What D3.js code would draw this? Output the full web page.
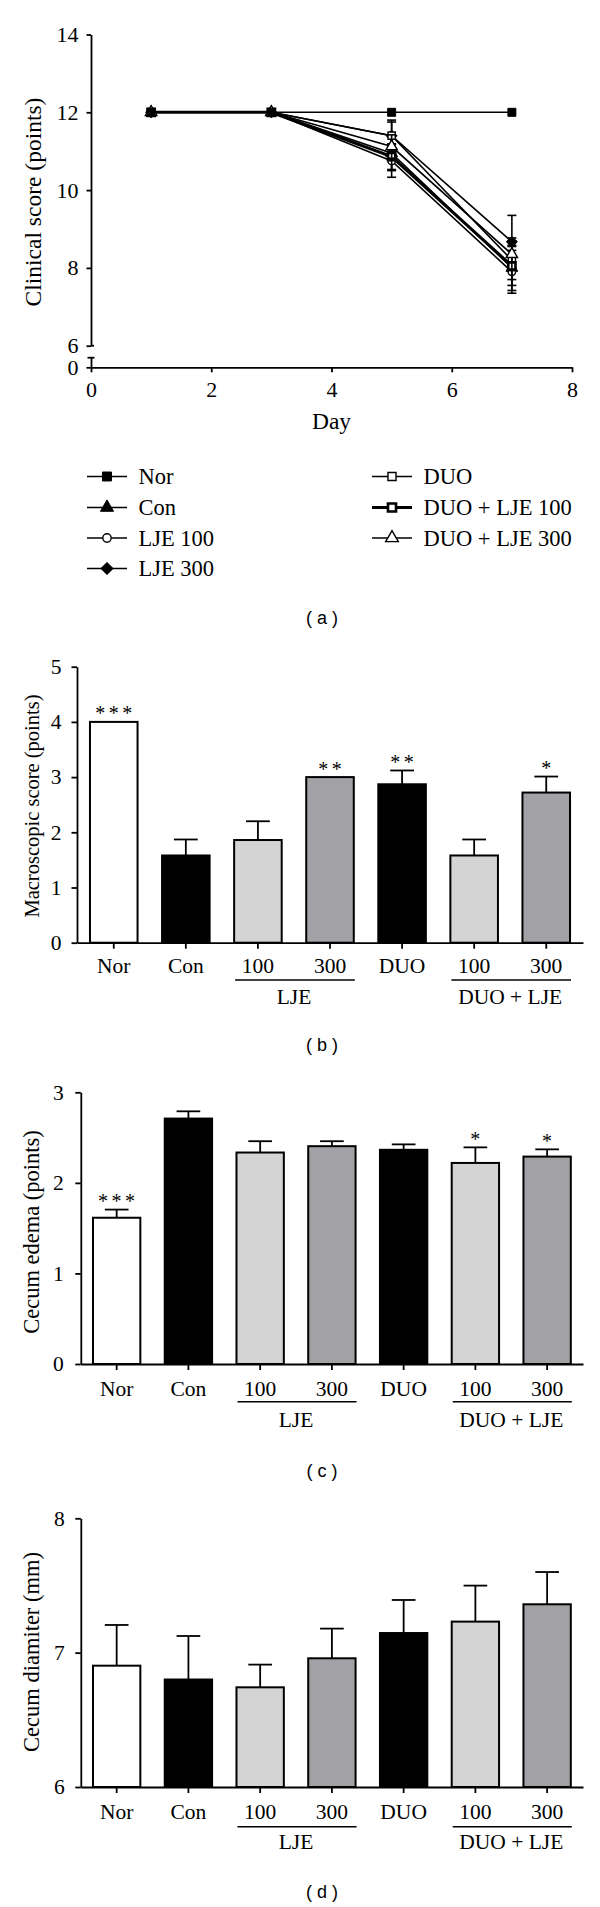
<!DOCTYPE html>
<html><head><meta charset="utf-8">
<script src="https://cdn.jsdelivr.net/npm/d3@7"></script>
<style>body{margin:0;background:#fff}svg{display:block}</style>
</head><body>
<svg id="chart" width="600" height="1907"></svg>
<script>
// ---------- DATA ----------
// (a) clinical score
const days = [1, 3, 5, 7];
const dayTicks = [0, 2, 4, 6, 8];
const scoreTicks = [6, 8, 10, 12, 14];
const seriesNames = ["Nor", "Con", "LJE 100", "LJE 300", "DUO", "DUO + LJE 100", "DUO + LJE 300"];
const scoreNor      = [12, 12, 12, 12];
const scoreCon      = [12, 12, 10.95, 8.0];
const scoreLJE100   = [12, 12, 10.75, 7.9];
const scoreLJE300   = [12, 12, 11.4, 8.67];
const scoreDUO      = [12, 12, 11.4, 8.2];
const scoreDUO100   = [12, 12, 10.86, 8.05];
const scoreDUO300   = [12, 12, 11.12, 8.35];
const errNor    = [0, 0, 0, 0];
const errCon    = [0, 0, 0.45, 0.58];
const errLJE100 = [0, 0, 0.42, 0.55];
const errLJE300 = [0, 0, 0.4, 0.68];
const errDUO    = [0, 0, 0.35, 0.5];
const errDUO100 = [0, 0, 0.33, 0.5];
const errDUO300 = [0, 0, 0.3, 0.42];

// bar panels
const barKeys   = ["Nor", "Con", "LJE100", "LJE300", "DUO", "DUOLJE100", "DUOLJE300"];
const barLabels = ["Nor", "Con", "100", "300", "DUO", "100", "300"];
const groupLabels = ["LJE", "DUO + LJE"];
// (b) macroscopic score
const macroTicks = [0, 1, 2, 3, 4, 5];
const macroMean  = [4.0, 1.58, 1.86, 3.0, 2.87, 1.58, 2.72];
const macroErr   = [0, 0.29, 0.34, 0, 0.25, 0.29, 0.29];
const macroStars = ["***", "", "", "**", "**", "", "*"];
// (c) cecum edema
const edemaTicks = [0, 1, 2, 3];
const edemaMean  = [1.615, 2.71, 2.335, 2.405, 2.365, 2.22, 2.29];
const edemaErr   = [0.09, 0.08, 0.125, 0.055, 0.06, 0.172, 0.08];
const edemaStars = ["***", "", "", "", "", "*", "*"];
// (d) cecum diameter
const diamTicks = [6, 7, 8];
const diamMean  = [6.903, 6.80, 6.742, 6.958, 7.146, 7.231, 7.36];
const diamErr   = [0.303, 0.324, 0.169, 0.221, 0.246, 0.268, 0.24];
const diamStars = ["", "", "", "", "", "", ""];

// ---------- DRAW ----------
const svg = d3.select("#chart");
const SERIF = "'Liberation Serif','Times New Roman',serif";
const SANS = "'Liberation Sans',Arial,sans-serif";
const barFills = ["#ffffff", "#000000", "#d4d4d4", "#a2a2a6", "#000000", "#d4d4d4", "#a2a2a6"];

function styleAxis(g, fs) {
  g.selectAll("path.domain").attr("stroke", "#000").attr("stroke-width", 1.8);
  g.selectAll(".tick line").attr("stroke", "#000").attr("stroke-width", 1.8);
  g.selectAll(".tick text").attr("font-family", SERIF).attr("font-size", fs).attr("fill", "#000");
}

// ===== Panel (a) =====
(function () {
  const AX = 91;
  const x = d3.scaleLinear().domain([0, 8]).range([AX, 572]);
  const y = d3.scaleLinear().domain([6, 14]).range([345.7, 34.5]);
  const yLow = d3.scaleLinear().domain([0, 0.25]).range([367.3, 357.7]);
  const g = svg.append("g");

  const gy = g.append("g").attr("transform", `translate(${AX},0)`)
    .call(d3.axisLeft(y).tickValues(scoreTicks).tickSize(4.5).tickSizeOuter(0).tickPadding(8));
  styleAxis(gy, 22);
  g.append("line").attr("x1", AX).attr("x2", AX + 3).attr("y1", y(6)).attr("y2", y(6))
    .attr("stroke", "#000").attr("stroke-width", 1.8);
  const gy0 = g.append("g").attr("transform", `translate(${AX},0)`)
    .call(d3.axisLeft(yLow).tickValues([0]).tickFormat(d3.format("d")).tickSize(4.5).tickSizeOuter(0).tickPadding(8));
  styleAxis(gy0, 22);
  g.append("line").attr("x1", AX - 3.5).attr("x2", AX + 3.5).attr("y1", yLow(0.25)).attr("y2", yLow(0.25))
    .attr("stroke", "#000").attr("stroke-width", 1.8);

  const gx = g.append("g").attr("transform", "translate(0,367.3)")
    .call(d3.axisBottom(x).tickValues(dayTicks).tickSize(5).tickSizeOuter(0).tickPadding(9));
  styleAxis(gx, 22);

  g.append("text").attr("x", x(4)).attr("y", 429).attr("text-anchor", "middle")
    .attr("font-family", SERIF).attr("font-size", 23.5).text("Day");
  g.append("text").attr("transform", "translate(40.5,202) rotate(-90)").attr("text-anchor", "middle")
    .attr("font-family", SERIF).attr("font-size", 23.5).text("Clinical score (points)");

  const values = [scoreNor, scoreCon, scoreLJE100, scoreLJE300, scoreDUO, scoreDUO100, scoreDUO300];
  const errs = [errNor, errCon, errLJE100, errLJE300, errDUO, errDUO100, errDUO300];
  const markers = [
    {type: d3.symbolSquare, size: 64, fill: "#000", sw: 1, rot: 0},
    {type: d3.symbolTriangle, size: 60, fill: "#000", sw: 1, rot: 0},
    {type: d3.symbolCircle, size: 44, fill: "#fff", sw: 1.4, rot: 0},
    {type: d3.symbolSquare, size: 56, fill: "#000", sw: 1, rot: 45},
    {type: d3.symbolSquare, size: 52, fill: "#fff", sw: 1.4, rot: 0},
    {type: d3.symbolSquare, size: 52, fill: "#fff", sw: 2.6, rot: 0},
    {type: d3.symbolTriangle, size: 56, fill: "#fff", sw: 1.4, rot: 0}
  ];
  const lineW = [1.6, 1.6, 1.6, 1.6, 1.6, 3, 1.6];
  const line = d3.line().x((d, i) => x(days[i])).y(d => y(d));
  const order = [1, 2, 3, 4, 5, 6, 0];
  order.forEach(s => {
    const sg = g.append("g");
    values[s].forEach((v, i) => {
      const e = errs[s][i];
      if (e <= 0) return;
      const cx = x(days[i]);
      sg.append("line").attr("x1", cx).attr("x2", cx).attr("y1", y(v - e)).attr("y2", y(v + e))
        .attr("stroke", "#000").attr("stroke-width", 1.6);
      [v - e, v + e].forEach(t => sg.append("line").attr("x1", cx - 4.5).attr("x2", cx + 4.5)
        .attr("y1", y(t)).attr("y2", y(t)).attr("stroke", "#000").attr("stroke-width", 1.6));
    });
    sg.append("path").attr("d", line(values[s])).attr("fill", "none")
      .attr("stroke", "#000").attr("stroke-width", lineW[s]);
    const m = markers[s];
    values[s].forEach((v, i) => {
      sg.append("path").attr("d", d3.symbol().type(m.type).size(m.size)())
        .attr("transform", `translate(${x(days[i])},${y(v)}) rotate(${m.rot})`)
        .attr("fill", m.fill).attr("stroke", "#000").attr("stroke-width", m.sw);
    });
  });

  // legend
  const legX = [87, 372], legRows = [476.5, 507.5, 538, 568.5];
  seriesNames.forEach((name, s) => {
    const col = s < 4 ? 0 : 1, row = s < 4 ? s : s - 4;
    const lx = legX[col], ly = legRows[row];
    const m = markers[s];
    g.append("line").attr("x1", lx).attr("x2", lx + 40).attr("y1", ly).attr("y2", ly)
      .attr("stroke", "#000").attr("stroke-width", lineW[s]);
    g.append("path").attr("d", d3.symbol().type(m.type).size(m.size * 1.25)())
      .attr("transform", `translate(${lx + 20},${ly}) rotate(${m.rot})`)
      .attr("fill", m.fill).attr("stroke", "#000").attr("stroke-width", m.sw);
    g.append("text").attr("x", lx + 51.5).attr("y", ly + 7.5).attr("font-family", SERIF)
      .attr("font-size", 22.5).text(name);
  });
  g.append("text").attr("x", 322).attr("y", 624).attr("text-anchor", "middle")
    .attr("font-family", SANS).attr("font-size", 18).attr("xml:space", "preserve").text("( a )");
})();

// ===== Bar panels =====
function barPanel(o) {
  const g = svg.append("g");
  const x = d3.scaleBand().domain(barKeys).range([o.axisX, 583]).paddingInner(0.34).paddingOuter(o.po);
  const y = d3.scaleLinear().domain(o.domain).range([o.y0, o.y1]);
  const bw = x.bandwidth();

  g.selectAll("rect.bar").data(o.mean).enter().append("rect")
    .attr("x", (d, i) => x(barKeys[i])).attr("width", bw)
    .attr("y", d => y(d)).attr("height", d => y(o.domain[0]) - y(d))
    .attr("fill", (d, i) => barFills[i]).attr("stroke", "#000").attr("stroke-width", 2);

  o.mean.forEach((v, i) => {
    const e = o.err[i];
    const cx = x(barKeys[i]) + bw / 2;
    if (e > 0) {
      g.append("line").attr("x1", cx).attr("x2", cx).attr("y1", y(v)).attr("y2", y(v + e))
        .attr("stroke", "#000").attr("stroke-width", 1.8);
      g.append("line").attr("x1", cx - bw / 4).attr("x2", cx + bw / 4).attr("y1", y(v + e)).attr("y2", y(v + e))
        .attr("stroke", "#000").attr("stroke-width", 1.8);
    }
    if (o.stars[i]) {
      g.append("text").attr("x", cx + 1.7).attr("y", y(v + e) - 1.5).attr("text-anchor", "middle")
        .attr("font-family", SERIF).attr("font-size", 20).attr("letter-spacing", 3.5)
        .text(o.stars[i]);
    }
  });

  const gy = g.append("g").attr("transform", `translate(${o.axisX},0)`)
    .call(d3.axisLeft(y).tickValues(o.ticks).tickSize(5.5).tickSizeOuter(0).tickPadding(o.tp).tickFormat(d3.format("d")));
  styleAxis(gy, 21.5);
  const gx = g.append("g").attr("transform", `translate(0,${o.y0})`)
    .call(d3.axisBottom(x).tickSize(6).tickSizeOuter(0).tickPadding(o.xp)
      .tickFormat((d, i) => barLabels[i]));
  styleAxis(gx, 21.5);

  const grp = [["LJE100", "LJE300"], ["DUOLJE100", "DUOLJE300"]];
  grp.forEach((pair, k) => {
    const x1 = x(pair[0]) + 1, x2 = x(pair[1]) + bw + 1;
    g.append("line").attr("x1", x1).attr("x2", x2).attr("y1", o.ul).attr("y2", o.ul)
      .attr("stroke", "#000").attr("stroke-width", 1.6);
    g.append("text").attr("x", (x(pair[0]) + x(pair[1]) + bw) / 2).attr("y", o.gl)
      .attr("text-anchor", "middle").attr("font-family", SERIF).attr("font-size", 21.5)
      .text(groupLabels[k]);
  });

  g.append("text").attr("transform", `translate(${o.titleX},${o.titleY}) rotate(-90)`)
    .attr("text-anchor", "middle").attr("font-family", SERIF).attr("font-size", o.titleFs)
    .text(o.title);
  g.append("text").attr("x", 322).attr("y", o.capY).attr("text-anchor", "middle")
    .attr("font-family", SANS).attr("font-size", 18).attr("xml:space", "preserve").text(o.cap);
}

barPanel({axisX: 77, po: 0.18, domain: [0, 5], y0: 942.7, y1: 666.7, ticks: macroTicks,
  mean: macroMean, err: macroErr, stars: macroStars, tp: 10, xp: 9.5, ul: 980, gl: 1004,
  title: "Macroscopic score (points)", titleX: 39, titleY: 806, titleFs: 20.5, cap: "( b )", capY: 1050.5});
barPanel({axisX: 80.8, po: 0.17, domain: [0, 3], y0: 1364, y1: 1092.3, ticks: edemaTicks,
  mean: edemaMean, err: edemaErr, stars: edemaStars, tp: 11.5, xp: 10.5, ul: 1401.7, gl: 1427,
  title: "Cecum edema (points)", titleX: 39, titleY: 1232, titleFs: 22.5, cap: "( c )", capY: 1477});
barPanel({axisX: 80.8, po: 0.17, domain: [6, 8], y0: 1787, y1: 1518.3, ticks: diamTicks,
  mean: diamMean, err: diamErr, stars: diamStars, tp: 10.5, xp: 11, ul: 1826.7, gl: 1849,
  title: "Cecum diamiter (mm)", titleX: 39, titleY: 1652, titleFs: 22.5, cap: "( d )", capY: 1898});
</script>
</body></html>
